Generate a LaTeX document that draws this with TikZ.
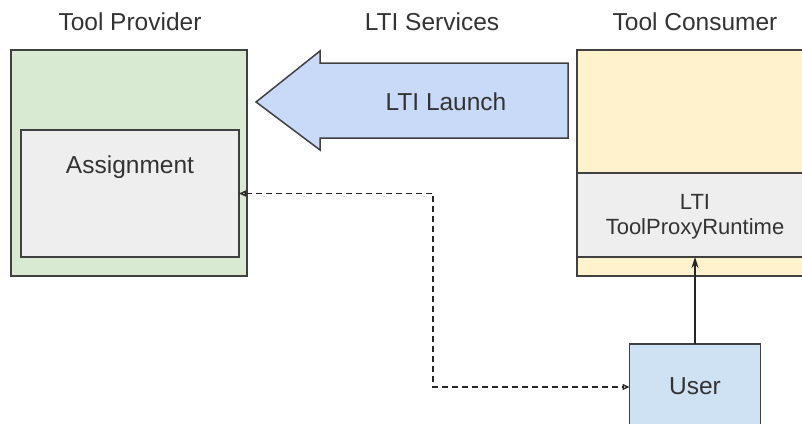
\documentclass[tikz,border=0pt]{standalone}
\usepackage{fontspec}
\setmainfont{Liberation Sans}
\usetikzlibrary{arrows.meta,positioning}
\definecolor{provgreen}{HTML}{D9EAD3}
\definecolor{consyellow}{HTML}{FFF2CC}
\definecolor{boxgray}{HTML}{EEEEEE}
\definecolor{launchblue}{HTML}{C9DAF8}
\definecolor{userblue}{HTML}{CFE2F3}
\begin{document}
\begin{tikzpicture}[x=1pt,y=-1pt,
  box/.style={draw=black!75, line width=1.5pt, inner sep=0pt, outer sep=0pt},
  lbl/.style={text=black!80, inner sep=0pt, font=\fontsize{24.5}{27}\selectfont},
  link/.style={draw=black!85, line width=1.4pt}]
  \clip (0,0) rectangle (802,423);
  % Boxes
  \node[box, fill=provgreen, minimum width=236pt, minimum height=226pt] (provider) at (129,163) {};
  \node[box, fill=boxgray, minimum width=218pt, minimum height=127pt] (assign) at (130,193.5) {};
  \node[box, fill=consyellow, minimum width=236pt, minimum height=226pt] (consumer) at (695,163) {};
  \node[box, fill=boxgray, minimum width=236pt, minimum height=84pt] (runtime) at (695,215) {};
  \node[box, fill=userblue, minimum width=131pt, minimum height=86pt] (user) at (695,387) {};
  % Launch arrow
  \draw[box, fill=launchblue] (256,102) -- (320,51) -- (320,63) -- (568,63)
    -- (568,138) -- (320,138) -- (320,150) -- cycle;
  % Labels
  \node[lbl, anchor=base] (provtitle) at (130,30.5) {Tool Provider};
  \node[lbl, anchor=base] (servtitle) at (432,30.5) {LTI Services};
  \node[lbl, anchor=base] (constitle) at (695,30.5) {Tool Consumer};
  \node[lbl, anchor=base] (assigntext) at (130,173) {Assignment};
  \node[lbl, anchor=base] (launch) at (446,110.5) {LTI Launch};
  \node[lbl, align=center, font=\fontsize{22}{25}\selectfont] (runtimetext) at (695,217) {LTI\\ToolProxyRuntime};
  \node[lbl, anchor=base] (usertext) at (695,394) {User};
  % Connectors
  \coordinate (turn) at (433,290);
  \draw[link, dash pattern=on 6pt off 4pt,
    {Triangle[open,length=7pt,width=6pt]}-{Triangle[open,length=7pt,width=6pt]}]
    (assign.east) -| (turn) |- (user.west);
  \draw[link, -{Stealth[length=11pt,width=7pt]}] (user.north) -- (runtime.south);
\end{tikzpicture}
\end{document}
